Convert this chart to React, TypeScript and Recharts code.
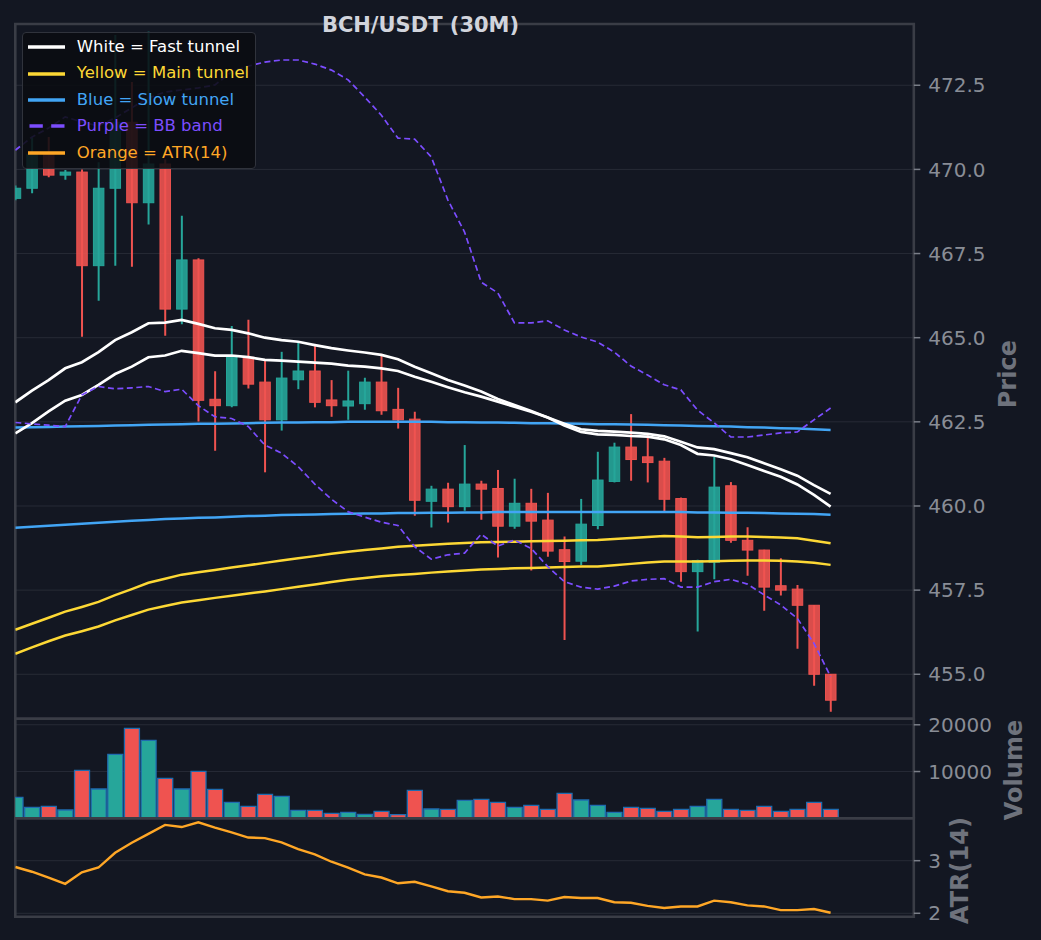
import React from 'react';
import {
  ComposedChart,
  Bar,
  Line,
  XAxis,
  YAxis,
  CartesianGrid,
  ReferenceArea,
  Legend,
  Cell,
} from 'recharts';

// ---------------- data ----------------
const OPENS = [469.14, 469.44, 470.45, 469.83, 469.92, 467.14, 469.44, 471.4, 469.01, 470.16, 465.85, 467.31, 463.17, 462.98, 464.42, 463.68, 462.56, 463.75, 464.01, 463.15, 462.97, 463.04, 463.68, 462.87, 462.58, 460.14, 460.5, 459.98, 460.65, 460.52, 459.4, 460.08, 459.58, 458.7, 458.36, 459.42, 460.73, 461.75, 461.46, 461.33, 460.22, 458.05, 458.33, 460.6, 458.98, 458.69, 457.63, 457.53, 457.05, 455.0];
const CLOSES = [469.44, 470.45, 469.83, 469.92, 467.14, 469.44, 471.4, 469.01, 470.16, 465.85, 467.31, 463.14, 462.98, 464.42, 463.62, 462.56, 463.8, 464.01, 463.08, 462.98, 463.12, 463.68, 462.83, 462.56, 460.17, 460.5, 459.98, 460.65, 460.5, 459.4, 460.08, 459.55, 458.66, 458.35, 459.46, 460.77, 461.75, 461.38, 461.29, 460.2, 458.05, 458.38, 460.56, 458.98, 458.69, 457.59, 457.5, 457.05, 455.0, 454.23];
const HIGHS = [469.52, 470.95, 470.96, 469.98, 470.0, 470.21, 473.99, 472.6, 474.09, 470.3, 468.62, 467.36, 464.0, 465.35, 465.53, 464.32, 464.58, 464.86, 464.75, 463.74, 464.02, 463.81, 464.52, 463.51, 462.8, 460.6, 460.69, 461.81, 460.75, 461.07, 460.81, 460.51, 460.39, 459.09, 460.21, 461.61, 461.88, 462.73, 462.11, 461.43, 460.25, 458.4, 461.47, 460.71, 459.37, 458.7, 458.45, 457.65, 457.06, 455.01];
const LOWS = [469.08, 469.29, 469.77, 469.69, 465.03, 466.1, 467.14, 467.11, 468.36, 465.06, 465.4, 462.51, 461.64, 462.93, 463.49, 461.0, 462.24, 463.47, 462.93, 462.65, 462.56, 462.86, 462.71, 462.3, 459.71, 459.36, 459.51, 459.86, 459.59, 458.47, 459.32, 458.08, 458.49, 456.02, 458.25, 459.31, 460.7, 460.75, 460.7, 459.85, 457.75, 456.27, 457.82, 458.91, 457.93, 456.89, 457.34, 455.76, 454.66, 453.89];
const VOLUMES = [4490, 2350, 2570, 1775, 10265, 6265, 13690, 19250, 16680, 8555, 6265, 10050, 6200, 3420, 2570, 5130, 4705, 1710, 1710, 1070, 1280, 855, 1500, 770, 5990, 1990, 1925, 3850, 4065, 3420, 2350, 2780, 1925, 5350, 3915, 2780, 1280, 2350, 2140, 1500, 1925, 2570, 4065, 1925, 1710, 2570, 1500, 1925, 3420, 1925];
const ATR14 = [2.88, 2.79, 2.68, 2.56, 2.78, 2.87, 3.15, 3.34, 3.51, 3.68, 3.64, 3.73, 3.63, 3.54, 3.44, 3.43, 3.35, 3.22, 3.12, 2.98, 2.87, 2.74, 2.68, 2.57, 2.6, 2.51, 2.42, 2.39, 2.3, 2.32, 2.27, 2.27, 2.24, 2.31, 2.29, 2.29, 2.21, 2.2, 2.14, 2.1, 2.13, 2.13, 2.24, 2.21, 2.15, 2.13, 2.06, 2.06, 2.08, 2.01];

const FAST_A = [463.08, 463.43, 463.74, 464.09, 464.27, 464.57, 464.93, 465.16, 465.43, 465.45, 465.53, 465.41, 465.28, 465.23, 465.13, 465.0, 464.93, 464.88, 464.78, 464.69, 464.62, 464.56, 464.49, 464.36, 464.14, 463.94, 463.74, 463.58, 463.4, 463.18, 463.0, 462.82, 462.63, 462.44, 462.28, 462.23, 462.21, 462.18, 462.14, 462.07, 461.91, 461.74, 461.69, 461.57, 461.45, 461.27, 461.09, 460.9, 460.62, 460.36];
const FAST_B = [462.16, 462.46, 462.81, 463.13, 463.3, 463.6, 463.92, 464.14, 464.42, 464.47, 464.61, 464.54, 464.47, 464.47, 464.42, 464.34, 464.32, 464.29, 464.26, 464.23, 464.17, 464.14, 464.09, 464.01, 463.84, 463.69, 463.53, 463.38, 463.25, 463.1, 462.95, 462.8, 462.63, 462.39, 462.2, 462.13, 462.11, 462.08, 462.06, 461.98, 461.81, 461.55, 461.5, 461.39, 461.22, 461.04, 460.87, 460.64, 460.33, 459.98];
const MAIN_A = [456.32, 456.5, 456.68, 456.86, 457.0, 457.15, 457.35, 457.53, 457.72, 457.84, 457.96, 458.03, 458.1, 458.17, 458.24, 458.31, 458.38, 458.45, 458.51, 458.58, 458.64, 458.69, 458.74, 458.79, 458.82, 458.85, 458.88, 458.9, 458.92, 458.93, 458.94, 458.95, 458.96, 458.97, 458.98, 458.99, 459.02, 459.05, 459.08, 459.11, 459.09, 459.07, 459.08, 459.09, 459.09, 459.08, 459.06, 459.04, 458.97, 458.89];
const MAIN_B = [455.61, 455.8, 455.98, 456.15, 456.28, 456.42, 456.6, 456.76, 456.92, 457.03, 457.13, 457.2, 457.27, 457.33, 457.4, 457.46, 457.53, 457.6, 457.67, 457.74, 457.81, 457.86, 457.91, 457.95, 457.98, 458.02, 458.05, 458.08, 458.11, 458.13, 458.15, 458.16, 458.17, 458.19, 458.2, 458.2, 458.24, 458.28, 458.32, 458.35, 458.35, 458.35, 458.36, 458.37, 458.38, 458.38, 458.37, 458.35, 458.31, 458.25];
const SLOW_A = [462.33, 462.34, 462.35, 462.36, 462.37, 462.38, 462.39, 462.4, 462.41, 462.42, 462.43, 462.44, 462.44, 462.45, 462.46, 462.47, 462.48, 462.48, 462.49, 462.49, 462.5, 462.5, 462.5, 462.5, 462.5, 462.5, 462.49, 462.49, 462.48, 462.48, 462.47, 462.46, 462.46, 462.45, 462.44, 462.43, 462.43, 462.42, 462.41, 462.4, 462.39, 462.38, 462.37, 462.36, 462.34, 462.33, 462.31, 462.3, 462.28, 462.26];
const SLOW_B = [459.35, 459.38, 459.41, 459.44, 459.47, 459.5, 459.53, 459.56, 459.58, 459.61, 459.63, 459.65, 459.66, 459.68, 459.7, 459.71, 459.73, 459.74, 459.75, 459.76, 459.77, 459.78, 459.78, 459.79, 459.79, 459.8, 459.8, 459.81, 459.81, 459.82, 459.82, 459.82, 459.82, 459.82, 459.82, 459.82, 459.82, 459.82, 459.82, 459.82, 459.82, 459.81, 459.81, 459.8, 459.8, 459.79, 459.78, 459.77, 459.76, 459.74];
const BB_UPPER = [470.57, 470.96, 471.23, 471.56, 471.41, 471.29, 471.53, 471.83, 472.12, 472.3, 472.36, 472.42, 472.51, 472.9, 473.07, 473.19, 473.25, 473.25, 473.13, 472.95, 472.66, 472.15, 471.61, 470.93, 470.9, 470.37, 469.09, 468.14, 466.65, 466.33, 465.44, 465.44, 465.5, 465.23, 465.02, 464.87, 464.57, 464.16, 463.89, 463.6, 463.45, 462.85, 462.47, 462.05, 462.05, 462.11, 462.17, 462.2, 462.56, 462.91];
const BB_LOWER = [462.48, 462.44, 462.4, 462.36, 463.3, 463.55, 463.48, 463.51, 463.55, 463.4, 463.47, 462.98, 462.65, 462.6, 462.36, 461.81, 461.57, 461.17, 460.65, 460.2, 459.83, 459.67, 459.52, 459.42, 458.79, 458.42, 458.55, 458.6, 459.16, 458.81, 458.99, 458.74, 458.2, 457.75, 457.59, 457.53, 457.62, 457.77, 457.82, 457.84, 457.59, 457.59, 457.75, 457.82, 457.68, 457.36, 457.06, 456.66, 455.92, 454.93];

const PRICE_TICKS = [455, 457.5, 460, 462.5, 465, 467.5, 470, 472.5];
const VOLUME_TICKS = [10000, 20000];
const ATR_TICKS = [2, 3];
const TIME_TICKS = [10, 20, 30, 40, 50];
const X_DOMAIN: [number, number] = [0, 54];
const PRICE_DOMAIN: [number, number] = [453.68, 474.32];
const VOLUME_DOMAIN: [number, number] = [0, 21300];
const ATR_DOMAIN: [number, number] = [1.935, 3.806];

const TITLE = 'BCH/USDT (30M)';
const LEGEND_LABELS = [
  'White = Fast tunnel',
  'Yellow = Main tunnel',
  'Blue = Slow tunnel',
  'Purple = BB band',
  'Orange = ATR(14)',
];

// ---------------- style ----------------
const W = 1041;
const H = 940;
const FONT = '"DejaVu Sans", sans-serif';
const BG = '#131722';
const GRID = '#272b36';
const FRAME = '#3a3d46';
const TICK_TEXT = '#898d96';
const TICK_LINE = '#7a7e88';
const AXIS_LABEL = '#6e727c';
const UP = '#26a69a';
const DOWN = '#ef5350';
const C_WHITE = '#ffffff';
const C_YELLOW = '#fdd835';
const C_BLUE = '#42a5f5';
const C_PURPLE = '#7c4dff';
const C_ORANGE = '#ffa726';
const LEGEND_COLORS = [C_WHITE, C_YELLOW, C_BLUE, C_PURPLE, C_ORANGE];

const PLOT_LEFT = 15.3;
const PLOT_RIGHT = 913.8;
const YAXIS_W = W - PLOT_RIGHT;
const PRICE_TOP = 24;
const PRICE_BOTTOM = 718.7;
const VOL_BOTTOM = 818.3;
const ATR_BOTTOM = 916.7;
const SLOT = (PLOT_RIGHT - PLOT_LEFT) / (X_DOMAIN[1] - X_DOMAIN[0]);

const data = OPENS.map((open, i) => ({
  i,
  open,
  close: CLOSES[i],
  high: HIGHS[i],
  low: LOWS[i],
  volume: VOLUMES[i],
  atr: ATR14[i],
  fastA: FAST_A[i],
  fastB: FAST_B[i],
  mainA: MAIN_A[i],
  mainB: MAIN_B[i],
  slowA: SLOW_A[i],
  slowB: SLOW_B[i],
  bbU: BB_UPPER[i],
  bbL: BB_LOWER[i],
}));

function CandleShape(props: any) {
  const { x, y, width, height, payload } = props;
  if (!payload || x == null || y == null) return null;
  const { open, close, high, low } = payload;
  const top = Math.min(y, y + height);
  const h = Math.abs(height);
  const k = h / (high - low || 1);
  const yO = top + (high - open) * k;
  const yC = top + (high - close) * k;
  const color = close >= open ? UP : DOWN;
  const cx = x + width / 2;
  const bw = width * 0.7;
  const bTop = Math.min(yO, yC);
  const bH = Math.max(Math.abs(yC - yO), 1);
  return (
    <g>
      <line x1={cx} x2={cx} y1={top} y2={top + h} stroke={color} strokeWidth={2} />
      <rect
        x={cx - bw / 2}
        y={bTop}
        width={bw}
        height={bH}
        fill={color}
        fillOpacity={0.9}
        stroke={color}
        strokeWidth={1}
      />
    </g>
  );
}

const axisLabel = (text: string, dx: number, dy: number) => (props: any) => {
  const vb = props.viewBox || {};
  const cx = (vb.x ?? PLOT_RIGHT) + dx;
  const cy = (vb.y ?? 0) + (vb.height ?? 0) / 2 + dy;
  return (
    <text
      x={cx}
      y={cy}
      transform={`rotate(-90 ${cx} ${cy})`}
      textAnchor="middle"
      dominantBaseline="central"
      fill={AXIS_LABEL}
      fontSize={24}
      fontWeight={700}
      fontFamily={FONT}
    >
      {text}
    </text>
  );
};

function xAxis() {
  return (
    <XAxis
      type="number"
      dataKey="i"
      domain={X_DOMAIN}
      ticks={TIME_TICKS}
      allowDataOverflow
      height={0}
      tick={false}
      tickLine={false}
      axisLine={false}
    />
  );
}

function yAxis(
  domain: [number, number],
  ticks: number[],
  fmt: (v: number) => string,
  label: (p: any) => React.ReactNode
) {
  return (
    <YAxis
      orientation="right"
      width={YAXIS_W}
      domain={domain}
      ticks={ticks}
      interval={0}
      allowDataOverflow
      axisLine={false}
      tickLine={{ stroke: TICK_LINE, strokeWidth: 1.5 }}
      tickSize={6.5}
      tickMargin={8}
      tick={{ fill: TICK_TEXT, fontSize: 20, fontFamily: FONT }}
      tickFormatter={fmt}
      label={label}
    />
  );
}

function frame(domain: [number, number]) {
  return (
    <ReferenceArea
      x1={X_DOMAIN[0]}
      x2={X_DOMAIN[1]}
      y1={domain[0]}
      y2={domain[1]}
      fill="none"
      fillOpacity={0}
      stroke={FRAME}
      strokeWidth={2.6}
      ifOverflow="visible"
    />
  );
}

function LegendBox() {
  return (
    <div
      style={{
        boxSizing: 'border-box',
        width: 234,
        height: 136.5,
        background: 'rgba(10,12,17,0.88)',
        border: '1.5px solid #30333c',
        borderRadius: 4,
        paddingTop: 1,
        fontFamily: FONT,
        fontSize: 16.5,
      }}
    >
      {LEGEND_LABELS.map((label, k) => (
        <div key={label} style={{ display: 'flex', alignItems: 'center', height: 26.4 }}>
          <svg width={37} height={8} style={{ marginLeft: 4.8, flex: 'none', display: 'block' }}>
            <line
              x1={k === 3 ? 1.5 : 0}
              x2={37}
              y1={4}
              y2={4}
              stroke={LEGEND_COLORS[k]}
              strokeWidth={3.4}
              strokeDasharray={k === 3 ? '13.3 8.4' : undefined}
            />
          </svg>
          <span style={{ marginLeft: 12, color: LEGEND_COLORS[k], whiteSpace: 'nowrap', lineHeight: 1 }}>
            {label}
          </span>
        </div>
      ))}
    </div>
  );
}

const layer: React.CSSProperties = { position: 'absolute', left: 0, top: 0 };

export default function App() {
  return (
    <div style={{ position: 'absolute', left: 0, top: 0, width: W, height: H, background: BG, overflow: 'hidden' }}>
      {/* Price panel */}
      <div style={layer}>
        <ComposedChart
          width={W}
          height={H}
          data={data}
          margin={{ top: PRICE_TOP, bottom: H - PRICE_BOTTOM, left: PLOT_LEFT, right: 0 }}
        >
          <CartesianGrid stroke={GRID} strokeWidth={1} />
          {xAxis()}
          {yAxis(PRICE_DOMAIN, PRICE_TICKS, (v) => v.toFixed(1), axisLabel('Price', 94.2, 2.8))}
          <Bar
            dataKey={(d: any) => [d.low, d.high]}
            barSize={SLOT}
            shape={CandleShape}
            isAnimationActive={false}
          />
          <Line dataKey="slowA" stroke={C_BLUE} strokeWidth={2.5} dot={false} isAnimationActive={false} />
          <Line dataKey="slowB" stroke={C_BLUE} strokeWidth={2.5} dot={false} isAnimationActive={false} />
          <Line dataKey="mainA" stroke={C_YELLOW} strokeWidth={2.5} dot={false} isAnimationActive={false} />
          <Line dataKey="mainB" stroke={C_YELLOW} strokeWidth={2.5} dot={false} isAnimationActive={false} />
          <Line dataKey="fastA" stroke={C_WHITE} strokeWidth={2.7} dot={false} isAnimationActive={false} />
          <Line dataKey="fastB" stroke={C_WHITE} strokeWidth={2.7} dot={false} isAnimationActive={false} />
          <Line dataKey="bbU" stroke={C_PURPLE} strokeWidth={1.7} strokeDasharray="6 3.5" dot={false} isAnimationActive={false} />
          <Line dataKey="bbL" stroke={C_PURPLE} strokeWidth={1.7} strokeDasharray="6 3.5" dot={false} isAnimationActive={false} />
          {frame(PRICE_DOMAIN)}
          <Legend
            layout="vertical"
            align="center"
            verticalAlign="middle"
            content={() => <LegendBox />}
            wrapperStyle={{ left: 22, top: 32, width: 234, height: 137, right: 'auto', bottom: 'auto' }}
          />
        </ComposedChart>
      </div>

      {/* Volume panel */}
      <div style={layer}>
        <ComposedChart
          width={W}
          height={H}
          data={data}
          margin={{ top: PRICE_BOTTOM, bottom: H - VOL_BOTTOM, left: PLOT_LEFT, right: 0 }}
        >
          <CartesianGrid stroke={GRID} strokeWidth={1} />
          {xAxis()}
          {yAxis(VOLUME_DOMAIN, VOLUME_TICKS, (v) => String(v), axisLabel('Volume', 99.9, 1.5))}
          <Bar dataKey="volume" barSize={SLOT} stroke="#1f6cb0" strokeWidth={1.3} isAnimationActive={false}>
            {data.map((d) => (
              <Cell key={d.i} fill={d.close >= d.open ? UP : DOWN} />
            ))}
          </Bar>
          {frame(VOLUME_DOMAIN)}
        </ComposedChart>
      </div>

      {/* ATR panel */}
      <div style={layer}>
        <ComposedChart
          width={W}
          height={H}
          data={data}
          margin={{ top: VOL_BOTTOM, bottom: H - ATR_BOTTOM, left: PLOT_LEFT, right: 0 }}
        >
          <CartesianGrid stroke={GRID} strokeWidth={1} />
          {xAxis()}
          {yAxis(ATR_DOMAIN, ATR_TICKS, (v) => String(v), axisLabel('ATR(14)', 45.9, 3))}
          <Line dataKey="atr" stroke={C_ORANGE} strokeWidth={2.4} dot={false} isAnimationActive={false} />
          {frame(ATR_DOMAIN)}
        </ComposedChart>
      </div>

      {/* Title */}
      <svg width={W} height={60} style={{ ...layer, pointerEvents: 'none' }}>
        <text
          x={420.5}
          y={31.5}
          textAnchor="middle"
          fill="#d1d4dc"
          fontSize={21}
          fontWeight={700}
          fontFamily={FONT}
        >
          {TITLE}
        </text>
      </svg>
    </div>
  );
}
